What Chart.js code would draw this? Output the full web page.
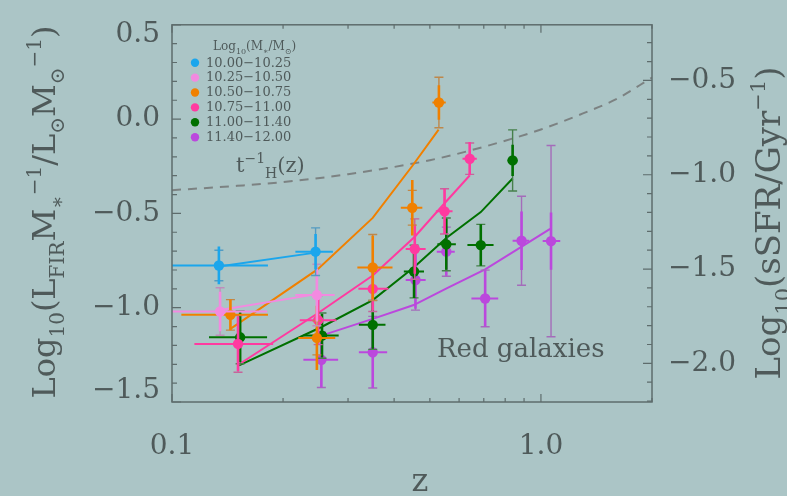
<!DOCTYPE html>
<html>
<head>
<meta charset="utf-8">
<script src="https://cdn.jsdelivr.net/npm/chart.js@4.4.1/dist/chart.umd.min.js"></script>
<style>
  html, body { margin: 0; padding: 0; background: #abc5c6; }
  #wrap { width: 787px; height: 496px; }
</style>
</head>
<body>
<div id="wrap"><canvas id="ssfrChart"></canvas></div>
<script>
// stellar mass bins, log10(M*/Msun)
const massBins = ['10.00−10.25', '10.25−10.50', '10.50−10.75', '10.75−11.00', '11.00−11.40', '11.40−12.00'];
const binColors = ['#1ba6ec', '#f28ae0', '#f08000', '#ff3aa0', '#007000', '#bb48dd'];

// stacked points: redshift and log10(L_FIR / M*)
const zObs = [
  [0.134, 0.245],
  [0.135, 0.247],
  [0.144, 0.247, 0.350, 0.448, 0.529],
  [0.151, 0.249, 0.350, 0.455, 0.548, 0.641],
  [0.153, 0.255, 0.350, 0.453, 0.554, 0.687, 0.838],
  [0.254, 0.350, 0.457, 0.554, 0.706, 0.886, 1.065]
];
const sObs = [
  [-0.776, -0.703],
  [-1.020, -0.933],
  [-1.038, -1.160, -0.787, -0.470, 0.088],
  [-1.192, -1.066, -0.900, -0.689, -0.489, -0.210],
  [-1.157, -1.148, -1.091, -0.808, -0.664, -0.668, -0.219],
  [-1.276, -1.236, -0.853, -0.703, -0.951, -0.645, -0.647]
];
// redshift range of each stack
const zLo = [
  [0.095, 0.216],
  [0.095, 0.216],
  [0.106, 0.220, 0.318, 0.417, 0.508],
  [0.115, 0.222, 0.320, 0.430, 0.519, 0.613],
  [0.126, 0.227, 0.321, 0.425, 0.524, 0.632, 0.812],
  [0.227, 0.321, 0.430, 0.522, 0.648, 0.838, 1.011]
];
const zHi = [
  [0.182, 0.273],
  [0.181, 0.276],
  [0.182, 0.277, 0.396, 0.477, 0.552],
  [0.188, 0.279, 0.386, 0.487, 0.576, 0.670],
  [0.181, 0.283, 0.379, 0.482, 0.588, 0.744, 0.864],
  [0.282, 0.383, 0.487, 0.584, 0.766, 0.929, 1.128]
];
// errors: inner (bold) and outer (capped)
const sErr = [
  [0.100, 0.094],
  [0.105, 0.140],
  [0.081, 0.170, 0.168, 0.147, 0.092],
  [0.144, 0.127, 0.115, 0.131, 0.120, 0.088],
  [0.131, 0.115, 0.126, 0.140, 0.135, 0.110, 0.083],
  [0.147, 0.190, 0.152, 0.127, 0.150, 0.155, 0.152]
];
const sErrOuter = [
  [0.081, 0.126],
  [0.126, 0.163],
  [0.081, 0.090, 0.175, 0.092, 0.134],
  [0.150, 0.130, 0.120, 0.160, 0.120, 0.083],
  [0.140, 0.120, 0.130, 0.140, 0.140, 0.110, 0.162],
  [0.147, 0.190, 0.160, 0.130, 0.150, 0.236, 0.507]
];

// model tracks
const zModel = [
  [0.134, 0.245],
  [0.135, 0.247],
  [0.144, 0.248, 0.350, 0.449, 0.528],
  [0.152, 0.249, 0.350, 0.455, 0.548, 0.641],
  [0.152, 0.255, 0.350, 0.452, 0.555, 0.687, 0.838],
  [0.254, 0.350, 0.452, 0.555, 0.706, 0.887, 1.059]
];
const sModel = [
  [-0.781, -0.708],
  [-1.012, -0.928],
  [-1.112, -0.797, -0.524, -0.246, -0.056],
  [-1.300, -1.028, -0.829, -0.624, -0.446, -0.299],
  [-1.306, -1.101, -0.960, -0.787, -0.629, -0.493, -0.315],
  [-1.148, -1.059, -0.986, -0.897, -0.797, -0.676, -0.582]
];

// inverse Hubble time
const zHubble = [0.1, 0.15, 0.2, 0.3, 0.5, 0.7, 1.0, 1.3, 1.6, 2.0];
const sHubble = [-0.377, -0.354, -0.334, -0.292, -0.218, -0.147, -0.055, 0.030, 0.106, 0.220];

// axes
const zTicks = [0.1, 1.0];
const zMinor = [0.1, 0.2, 0.3, 0.4, 0.5, 0.6, 0.7, 0.8, 0.9, 1.0, 2.0];
const sTicks = [0.5, 0.0, -0.5, -1.0, -1.5];
const ssfrTicks = [-0.5, -1.0, -1.5, -2.0];
const ssfrOffset = 0.705;   // log10(sSFR) = log10(L_FIR/M*) - offset

const serif = '"DejaVu Serif", "Liberation Serif", serif';
const ink = '#4f5a5a';
const frame = '#5e6c6c';
const fmt = v => (v < -1e-9 ? '−' : '') + Math.abs(v).toFixed(1);

function mix(c1, c2, t) {
  const p = c => [1, 3, 5].map(k => parseInt(c.slice(k, k + 2), 16));
  const a = p(c1), b = p(c2);
  return 'rgb(' + a.map((v, k) => Math.round(v * (1 - t) + b[k] * t)).join(',') + ')';
}

// text with sub/superscripts: parts = [text, scale, shift(em)]
function richText(ctx, parts, x, y, size, angle, align) {
  ctx.save();
  ctx.translate(x, y);
  ctx.rotate(angle);
  ctx.textBaseline = 'alphabetic';
  ctx.textAlign = 'left';
  const fonts = parts.map(p => Math.round(size * p[1]) + 'px ' + serif);
  let total = 0;
  parts.forEach((p, i) => { ctx.font = fonts[i]; total += ctx.measureText(p[0]).width; });
  let cx = align === 'left' ? 0 : -total / 2;
  parts.forEach((p, i) => {
    ctx.font = fonts[i];
    ctx.fillText(p[0], cx, p[2] * size);
    cx += ctx.measureText(p[0]).width;
  });
  ctx.restore();
}

const datasets = [];
datasets.push({
  label: 'Hubble',
  data: zHubble.map((z, j) => ({ x: z, y: sHubble[j] })),
  showLine: true,
  borderColor: '#7c8282',
  borderWidth: 2,
  borderDash: [9, 7],
  cubicInterpolationMode: 'monotone',
  pointRadius: 0,
  order: 3
});
massBins.forEach((label, i) => {
  datasets.push({
    label: label + ' model',
    data: zModel[i].map((z, j) => ({ x: z, y: sModel[i][j] })),
    showLine: true,
    borderColor: binColors[i],
    borderWidth: 2,
    pointRadius: 0,
    order: 2
  });
});
massBins.forEach((label, i) => {
  datasets.push({
    label: label,
    bin: i,
    data: zObs[i].map((z, j) => ({ x: z, y: sObs[i][j] })),
    backgroundColor: binColors[i],
    borderWidth: 0,
    pointRadius: 5.2,
    order: 1
  });
});

const decor = {
  id: 'decor',
  beforeDraw(chart) {
    const ctx = chart.ctx;
    ctx.save();
    ctx.fillStyle = '#abc5c6';
    ctx.fillRect(0, 0, chart.width, chart.height);
    ctx.restore();
  },
  beforeDatasetDraw(chart, args) {
    const ds = chart.data.datasets[args.index];
    if (ds.bin === undefined) return;
    const i = ds.bin;
    const { ctx, chartArea: a, scales: { x, y } } = chart;
    const faint = mix(binColors[i], '#8c9096', 0.5);
    ctx.save();
    ctx.beginPath();
    ctx.rect(a.left, a.top, a.right - a.left, a.bottom - a.top);
    ctx.clip();
    zObs[i].forEach((z, j) => {
      const px = x.getPixelForValue(z);
      const py = y.getPixelForValue(sObs[i][j]);
      const o1 = y.getPixelForValue(sObs[i][j] + sErrOuter[i][j]);
      const o2 = y.getPixelForValue(sObs[i][j] - sErrOuter[i][j]);
      ctx.strokeStyle = faint;
      ctx.lineWidth = 1.4;
      ctx.beginPath();
      ctx.moveTo(px, o1); ctx.lineTo(px, o2);
      ctx.moveTo(px - 4.5, o1); ctx.lineTo(px + 4.5, o1);
      ctx.moveTo(px - 4.5, o2); ctx.lineTo(px + 4.5, o2);
      ctx.stroke();
      ctx.strokeStyle = binColors[i];
      ctx.lineWidth = 2.6;
      ctx.beginPath();
      ctx.moveTo(px, y.getPixelForValue(sObs[i][j] + sErr[i][j]));
      ctx.lineTo(px, y.getPixelForValue(sObs[i][j] - sErr[i][j]));
      ctx.stroke();
      ctx.lineWidth = 2;
      ctx.beginPath();
      ctx.moveTo(x.getPixelForValue(zLo[i][j]), py);
      ctx.lineTo(x.getPixelForValue(zHi[i][j]), py);
      ctx.stroke();
    });
    ctx.restore();
  },
  afterDraw(chart) {
    const { ctx, chartArea: a, scales: { x, y, y2 } } = chart;
    ctx.save();
    // frame
    ctx.strokeStyle = frame;
    ctx.lineWidth = 1.5;
    ctx.strokeRect(a.left, a.top, a.right - a.left, a.bottom - a.top);
    // inward tick marks
    ctx.lineWidth = 1.2;
    ctx.beginPath();
    zMinor.forEach(z => {
      const px = x.getPixelForValue(z);
      const len = zTicks.includes(z) ? 8 : 4;
      ctx.moveTo(px, a.bottom); ctx.lineTo(px, a.bottom - len);
      ctx.moveTo(px, a.top); ctx.lineTo(px, a.top + len);
    });
    for (let k = -15; k <= 5; k++) {
      const py = y.getPixelForValue(k / 10);
      const len = k % 5 === 0 ? 9 : 5;
      ctx.moveTo(a.left, py); ctx.lineTo(a.left + len, py);
    }
    for (let k = -22; k <= -3; k++) {
      const py = y2.getPixelForValue(k / 10);
      const len = k % 5 === 0 ? 9 : 5;
      ctx.moveTo(a.right, py); ctx.lineTo(a.right - len, py);
    }
    ctx.stroke();

    ctx.fillStyle = ink;
    // left tick labels, the end ones pulled inside the frame
    ctx.font = '28px ' + serif;
    ctx.textAlign = 'right';
    ctx.textBaseline = 'middle';
    sTicks.forEach(v => {
      let py = y.getPixelForValue(v);
      if (py - a.top < 2) py += 10;
      if (a.bottom - py < 2) py -= 11;
      ctx.fillText(fmt(v), a.left - 12, py);
    });

    // axis titles
    richText(ctx, [['Log', 1, 0], ['10', 0.62, 0.28], ['(L', 1, 0], ['FIR', 0.62, 0.28], ['M', 1, 0],
      ['∗', 0.62, 0.28], ['−1', 0.62, -0.45], ['/L', 1, 0], ['⊙', 0.62, 0.28], ['M', 1, 0],
      ['⊙', 0.62, 0.28], ['−1', 0.62, -0.45], [')', 1, 0]], 55, 212, 32, -Math.PI / 2, 'center');
    richText(ctx, [['Log', 1, 0], ['10', 0.62, 0.28], ['(sSFR/Gyr', 1, 0], ['−1', 0.62, -0.45], [')', 1, 0]],
      780, 223, 34, -Math.PI / 2, 'center');
    ctx.font = '32px ' + serif;
    ctx.textAlign = 'center';
    ctx.textBaseline = 'alphabetic';
    ctx.fillText('z', 420, 491);

    // labels inside the panel
    richText(ctx, [['t', 1, 0], ['−1', 0.65, -0.45], ['H', 0.65, 0.3], ['(z)', 1, 0]], 236, 172, 21, 0, 'left');
    ctx.font = '26px ' + serif;
    ctx.textAlign = 'left';
    ctx.fillText('Red galaxies', 437, 357);

    // legend
    richText(ctx, [['Log', 1, 0], ['10', 0.65, 0.3], ['(M', 1, 0], ['∗', 0.65, 0.3], ['/M', 1, 0],
      ['⊙', 0.65, 0.3], [')', 1, 0]], 213, 50, 12, 0, 'left');
    ctx.font = '13px ' + serif;
    ctx.textBaseline = 'middle';
    massBins.forEach((label, i) => {
      const ly = 62.7 + i * 14.9;
      ctx.fillStyle = binColors[i];
      ctx.beginPath();
      ctx.arc(195, ly, 4.2, 0, Math.PI * 2);
      ctx.fill();
      ctx.fillStyle = ink;
      ctx.fillText(label, 206, ly + 0.5);
    });
    ctx.restore();
  }
};

new Chart(document.getElementById('ssfrChart'), {
  type: 'scatter',
  data: { datasets: datasets },
  options: {
    responsive: true,
    maintainAspectRatio: false,
    animation: false,
    events: [],
    layout: { padding: { top: 20, left: 0, right: 0, bottom: 0 } },
    plugins: { legend: { display: false }, tooltip: { enabled: false } },
    scales: {
      x: {
        type: 'logarithmic',
        min: 0.1,
        max: 2.0,
        grid: { display: false },
        border: { display: false },
        afterBuildTicks: s => { s.ticks = zTicks.map(v => ({ value: v })); },
        afterFit: s => { s.height = 94; },
        ticks: {
          callback: v => fmt(v),
          color: ink,
          padding: 20,
          maxRotation: 0,
          autoSkip: false,
          font: { family: serif, size: 28 }
        }
      },
      y: {
        position: 'left',
        min: -1.5,
        max: 0.5,
        grid: { display: false },
        border: { display: false },
        afterBuildTicks: s => { s.ticks = sTicks.map(v => ({ value: v })); },
        afterFit: s => { s.width = 172; },
        ticks: { display: false }
      },
      y2: {
        position: 'right',
        min: -1.5 - ssfrOffset,
        max: 0.5 - ssfrOffset,
        grid: { display: false },
        border: { display: false },
        afterBuildTicks: s => { s.ticks = ssfrTicks.map(v => ({ value: v })); },
        afterFit: s => { s.width = 135; },
        ticks: {
          callback: v => fmt(v),
          color: ink,
          padding: 8,
          font: { family: serif, size: 28 }
        }
      }
    }
  },
  plugins: [decor]
});
</script>
</body>
</html>
